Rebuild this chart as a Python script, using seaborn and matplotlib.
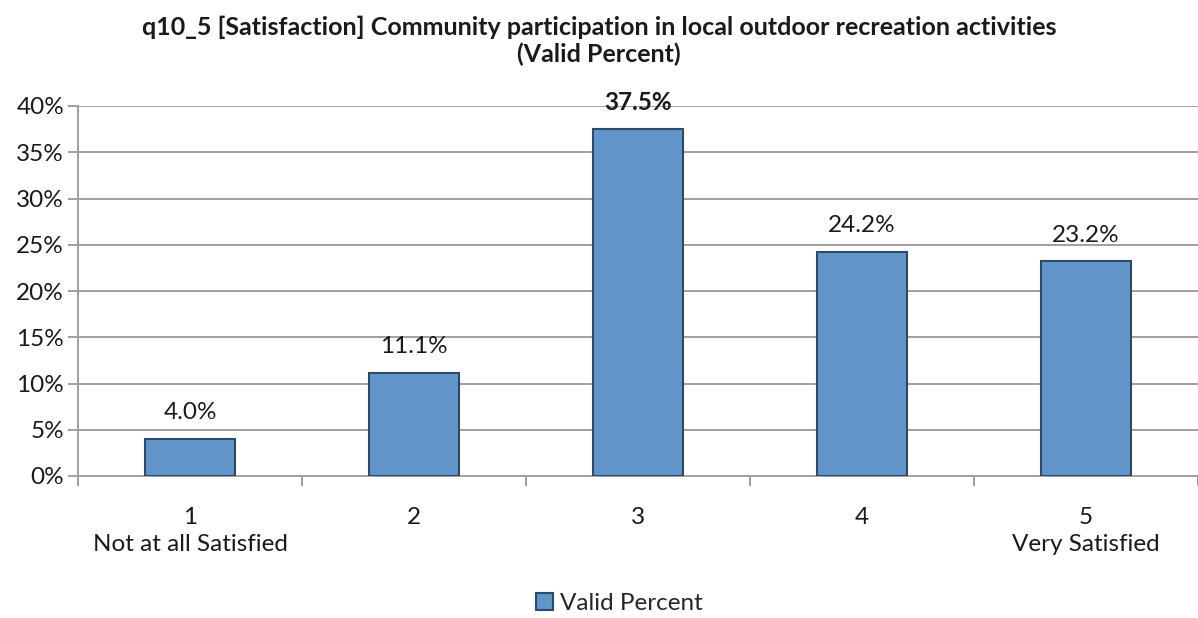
import matplotlib
matplotlib.use("Agg")
import matplotlib.pyplot as plt
import matplotlib.ticker as mticker
import seaborn as sns
import pandas as pd
import numpy as np

categories = ["1\nNot at all Satisfied", "2", "3", "4", "5\nVery Satisfied"]
valid_percent = [4.0, 11.1, 37.5, 24.2, 23.2]
series_name = "Valid Percent"
title = "q10_5 [Satisfaction] Community participation in local outdoor recreation activities\n(Valid Percent)"

sns.set_style("white")
plt.rcParams["font.family"] = ["Lato", "DejaVu Sans"]

df = pd.DataFrame({"cat": categories, "val": valid_percent, "series": series_name})

fig = plt.figure(figsize=(11.98, 6.18), dpi=100)
ax = fig.add_axes([78 / 1198, 1 - 476 / 618, 1 - 78 / 1198, (476 - 106) / 618])

sns.barplot(data=df, x="cat", y="val", hue="series", palette=["#6195C9"],
            saturation=1, width=0.4, edgecolor="#2E4A6B", linewidth=1.5,
            ax=ax, zorder=3)

ax.set_ylim(0, 40)
ax.set_xlim(-0.5, 4.5)
ax.yaxis.set_major_locator(mticker.MultipleLocator(5))
ax.yaxis.set_major_formatter(mticker.FuncFormatter(lambda v, p: f"{v:.0f}%"))
ax.grid(axis="y", color="#A0A0A0", linewidth=1.4, zorder=0)
ax.set_axisbelow(True)
ax.set_xlabel("")
ax.set_ylabel("")

for s in ["top", "right"]:
    ax.spines[s].set_visible(False)
for s in ["left", "bottom"]:
    ax.spines[s].set_color("#A0A0A0")
    ax.spines[s].set_linewidth(1.4)

ax.tick_params(axis="y", which="major", length=7, width=1.4, color="#A0A0A0",
               labelsize=17.5, pad=3, left=True, labelcolor="#1a1a1a")
ax.tick_params(axis="x", which="major", length=0, labelsize=17.5, pad=22,
               labelcolor="#1a1a1a")
ax.set_xticks(range(len(categories)))
ax.set_xticklabels(categories, linespacing=1.4)
ax.set_xticks(np.arange(-0.5, len(categories), 1.0), minor=True)
ax.tick_params(axis="x", which="minor", length=7, width=1.4, color="#A0A0A0", bottom=True)

for i, v in enumerate(valid_percent):
    bold = v == max(valid_percent)
    ax.annotate(f"{v:.1f}%", (i, v), xytext=(0, 19), textcoords="offset points",
                ha="center", va="center", fontsize=17.5,
                fontweight="bold" if bold else "normal", color="#1a1a1a")

fig.text(0.5, 1 - 41 / 618, title, ha="center", va="center", fontsize=18,
         fontweight="bold", linespacing=1.15, color="#1a1a1a")

ax.legend(loc="center", bbox_to_anchor=(0.517 * 1198 / 1120 - 78 / 1120, -0.345),
          frameon=False, fontsize=17.5, handlelength=0.7, handleheight=0.7,
          handletextpad=0.3, borderaxespad=0)

fig.savefig("out.png", dpi=100)
